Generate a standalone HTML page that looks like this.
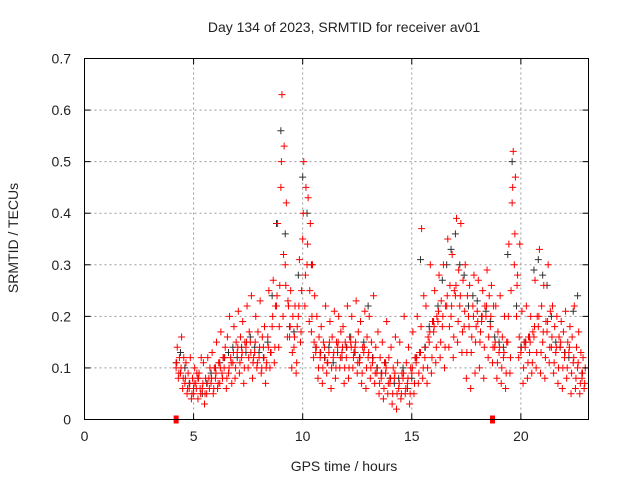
<!DOCTYPE html>
<html><head><meta charset="utf-8"><style>
body{margin:0;background:#fff;width:640px;height:480px;overflow:hidden}
text{font-family:"Liberation Sans",sans-serif;font-size:14px;fill:#222}
</style></head><body>
<svg id="chart" width="640" height="480" xmlns="http://www.w3.org/2000/svg">
<g id="grid"></g>
<g id="pts"></g>
<rect x="84.5" y="58.5" width="504" height="361" fill="none" stroke="#000" stroke-width="1"/>
<g id="axes"></g>
<text x="344" y="32" text-anchor="middle">Day 134 of 2023, SRMTID for receiver av01</text>
<text x="344" y="471" text-anchor="middle">GPS time / hours</text>
<text transform="translate(18,238) rotate(-90)" text-anchor="middle">SRMTID / TECUs</text>
</svg>
<script>
const times=[4.2,4.4,4.6,4.8,5.0,5.2,5.4,5.6,5.8,6.0,6.2,6.4,6.6,6.8,7.0,7.2,7.4,7.6,7.8,8.0,8.2,8.4,8.6,8.8,9.0,9.2,9.4,9.6,9.8,10.0,10.2,10.4,10.6,10.8,11.0,11.2,11.4,11.6,11.8,12.0,12.2,12.4,12.6,12.8,13.0,13.2,13.4,13.6,13.8,14.0,14.2,14.4,14.6,14.8,15.0,15.2,15.4,15.6,15.8,16.0,16.2,16.4,16.6,16.8,17.0,17.2,17.4,17.6,17.8,18.0,18.2,18.4,18.6,18.8,19.0,19.2,19.4,19.6,19.8,20.0,20.2,20.4,20.6,20.8,21.0,21.2,21.4,21.6,21.8,22.0,22.2,22.4,22.6,22.8];
const redA=[.10,.09,.07,.06,.05,.04,.06,.05,.07,.08,.07,.10,.09,.11,.13,.12,.14,.15,.13,.12,.14,.16,.18,.22,.45,.30,.16,.14,.20,.35,.30,.17,.13,.12,.14,.13,.12,.14,.13,.12,.15,.14,.11,.13,.12,.11,.09,.08,.09,.07,.08,.06,.08,.07,.09,.11,.13,.12,.15,.17,.19,.18,.22,.20,.24,.22,.18,.20,.22,.21,.19,.20,.18,.14,.13,.12,.15,.42,.20,.13,.14,.13,.16,.18,.15,.17,.14,.13,.14,.12,.13,.11,.10,.08];
const redB=[.14,.16,.11,.12,.10,.09,.11,.12,.13,.15,.17,.14,.20,.18,.21,.19,.22,.24,.20,.23,.18,.25,.27,.38,.63,.42,.25,.22,.31,.50,.43,.30,.20,.18,.22,.19,.21,.20,.18,.22,.20,.23,.19,.21,.20,.24,.17,.15,.19,.14,.16,.15,.20,.14,.17,.20,.37,.22,.30,.25,.28,.30,.35,.32,.39,.38,.30,.26,.28,.27,.25,.29,.26,.22,.24,.20,.34,.52,.28,.21,.22,.20,.27,.33,.26,.30,.22,.20,.19,.21,.18,.22,.17,.12];
const redC=[.08,.06,.05,.04,.07,.06,.03,.08,.05,.06,.09,.06,.12,.08,.09,.07,.10,.08,.10,.09,.07,.10,.11,.14,.20,.16,.10,.09,.15,.22,.19,.12,.08,.07,.09,.06,.08,.10,.07,.08,.10,.09,.07,.06,.08,.07,.05,.04,.05,.03,.02,.04,.05,.03,.05,.07,.08,.07,.09,.11,.12,.10,.14,.12,.15,.13,.08,.06,.09,.10,.08,.12,.11,.08,.07,.06,.09,.30,.12,.07,.08,.09,.10,.09,.08,.11,.09,.07,.06,.08,.05,.06,.05,.06];
const redD=[.12,.12,.09,.08,.09,.12,.08,.10,.10,.11,.12,.16,.07,.15,.16,.15,.17,.12,.17,.16,.11,.13,.22,.26,.53,.22,.20,.18,.25,.45,.38,.24,.16,.15,.11,.16,.15,.17,.15,.16,.13,.17,.14,.16,.15,.14,.12,.11,.12,.10,.11,.09,.11,.10,.12,.13,.24,.16,.19,.20,.23,.22,.26,.25,.29,.27,.24,.16,.18,.17,.22,.24,.22,.17,.16,.15,.25,.47,.34,.15,.16,.17,.20,.22,.19,.21,.18,.16,.17,.15,.16,.14,.13,.10];
const redE=[.11,.10,.08,.07,.07,.08,.07,.07,.08,.09,.10,.12,.10,.13,.14,.13,.15,.13,.15,.14,.12,.14,.20,.24,.50,.26,.18,.16,.22,.40,.34,.20,.14,.13,.12,.15,.13,.15,.14,.14,.14,.15,.12,.14,.13,.12,.10,.09,.10,.08,.09,.07,.09,.08,.10,.12,.18,.14,.17,.18,.21,.20,.24,.22,.26,.24,.21,.18,.20,.19,.20,.22,.20,.15,.14,.13,.20,.45,.26,.14,.15,.15,.18,.20,.17,.19,.16,.14,.15,.13,.14,.12,.11,.09];
const redF=[.09,.08,.06,.05,.06,.05,.05,.06,.06,.07,.08,.08,.11,.10,.11,.10,.12,.11,.11,.10,.10,.13,.14,.18,.32,.23,.13,.11,.17,.28,.25,.15,.10,.10,.11,.10,.10,.12,.10,.10,.12,.11,.09,.10,.10,.09,.07,.06,.07,.05,.05,.05,.06,.05,.07,.09,.10,.10,.12,.14,.15,.14,.18,.16,.19,.17,.13,.13,.15,.15,.14,.16,.14,.11,.10,.09,.12,.36,.16,.10,.11,.11,.13,.13,.12,.14,.11,.10,.10,.10,.09,.08,.07,.07];
const blackA=[.11,.13,.10,.07,.06,.08,.05,.07,.09,.10,.11,.12,.13,.14,.12,.14,.13,.16,.14,.13,.12,.15,.24,.38,.56,.36,.18,.17,.28,.47,.40,.30,.14,.13,.12,.14,.11,.13,.12,.14,.16,.13,.12,.15,.22,.12,.10,.09,.11,.08,.07,.08,.10,.06,.08,.12,.31,.14,.18,.19,.22,.27,.30,.33,.36,.30,.28,.22,.24,.23,.20,.21,.19,.16,.15,.14,.32,.50,.22,.14,.15,.16,.29,.31,.28,.26,.20,.15,.14,.13,.12,.21,.24,.09];
const squares=[[4.2,0],[18.7,0]];
const xTicks=[0,5,10,15,20];
const yTicks=[0,0.1,0.2,0.3,0.4,0.5,0.6,0.7];
const yLabels=["0","0.1","0.2","0.3","0.4","0.5","0.6","0.7"];
const NS="http://www.w3.org/2000/svg";
const X0=84.5,X1=588.5,Y0=419.5,Y1=58.5,XMAX=23.1,YMAX=0.7;
const sx=v=>X0+(X1-X0)*v/XMAX, sy=v=>Y0-(Y0-Y1)*v/YMAX;
const grid=document.getElementById('grid'),axes=document.getElementById('axes'),pts=document.getElementById('pts');
function mk(tag,at,parent){const e=document.createElementNS(NS,tag);for(const k in at)e.setAttribute(k,at[k]);parent.appendChild(e);return e;}
xTicks.forEach(t=>{const x=sx(t);
 if(t>0){const g=mk('line',{x1:x,x2:x,y1:Y0,y2:Y1,stroke:'#999','stroke-dasharray':'2,3'},grid);
 
 }
 const a=mk('line',{x1:x,x2:x,y1:Y0,y2:Y0-6,stroke:'#000'},axes);
 
 
 const b=mk('line',{x1:x,x2:x,y1:Y1,y2:Y1+6,stroke:'#000'},axes);
 
 
 const l=mk('text',{x:x,y:441,'text-anchor':'middle'},axes);l.textContent=String(t);
 
 });
yTicks.forEach((t,i)=>{const y=sy(t);
 if(t>0&&t<YMAX){const g=mk('line',{x1:X0,x2:X1,y1:y,y2:y,stroke:'#999','stroke-dasharray':'2,3'},grid);
 
 }
 const a=mk('line',{x1:X0,x2:X0+6,y1:y,y2:y,stroke:'#000'},axes);
 
 
 const b=mk('line',{x1:X1,x2:X1-6,y1:y,y2:y,stroke:'#000'},axes);
 
 
 const l=mk('text',{x:71,y:y+5,'text-anchor':'end'},axes);l.textContent=yLabels[i];
 
 });
function plus(t,v,color,name){const x=sx(t),y=sy(v);
 const p=mk('path',{d:`M${x-3.5},${y}h7M${x},${y-3.5}v7`,stroke:color,'stroke-width':1,fill:'none'},pts);
 
 }
times.forEach((t,i)=>plus(t,blackA[i],'#333','black-point'));
const redSeries=[redA,redB,redC,redD,redE,redF];
const redOffsets=[0,0.05,0.1,0.15,0.025,0.125];
redSeries.forEach((s,k)=>times.forEach((t,i)=>plus(t+redOffsets[k],s[i],'#f00','red-point')));
squares.forEach(s=>{const r=mk('rect',{x:sx(s[0])-2.5,y:sy(s[1])-4,width:5,height:8,fill:'#f00'},pts);
 
 });
</script>
</body></html>
